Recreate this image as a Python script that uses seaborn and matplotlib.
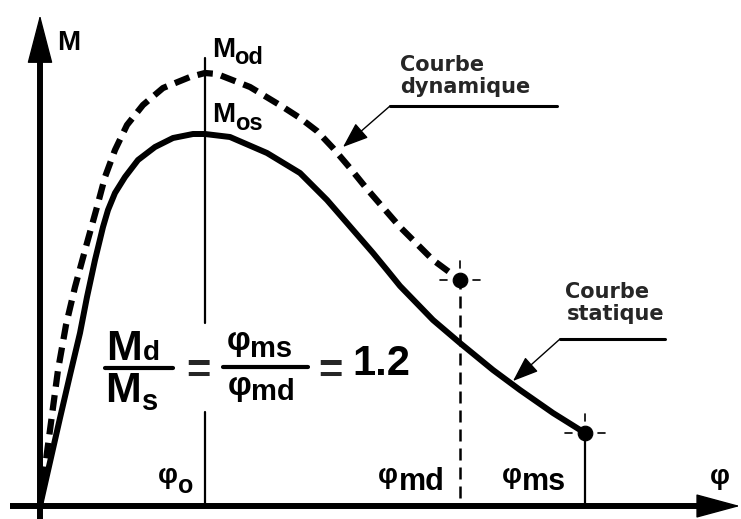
import pandas as pd
import matplotlib.pyplot as plt
import seaborn as sns

# curves (phi, M in arbitrary units)
phi_static = [0, 10, 20, 30, 40, 47, 55, 63, 68, 75, 85, 98, 115, 133, 153, 165,
              190, 227, 260, 287, 307, 333, 347, 360, 393, 420, 453, 480, 513, 545]
m_static = [0, 44, 88, 131, 173, 209, 246, 279, 296, 313, 329, 346, 359, 368, 372, 372,
            369, 353, 333, 306, 283, 253, 236, 220, 186, 163, 136, 116, 93, 73]

phi_dyn = [0, 6, 12, 18, 26, 35, 47, 57, 65, 75, 87, 103, 123, 150, 165,
           177, 210, 243, 260, 277, 293, 310, 327, 360, 393, 420]
m_dyn = [0, 46, 91, 136, 181, 219, 263, 299, 329, 356, 381, 401, 418, 429, 433,
         432, 419, 399, 388, 375, 358, 338, 317, 279, 246, 226]

phi_o = 165          # position of the maximum
phi_md = 420         # end of dynamic curve
phi_ms = 545         # end of static curve
end_phi = [phi_md, phi_ms]
end_m = [226, 73]
ratio = "1.2"

df_s = pd.DataFrame({"phi": phi_static, "M": m_static})
df_d = pd.DataFrame({"phi": phi_dyn, "M": m_dyn})
df_end = pd.DataFrame({"phi": end_phi, "M": end_m})

sns.set_style("white")
plt.rcParams["font.family"] = ["Liberation Sans", "DejaVu Sans"]

fig = plt.figure(figsize=(7.41, 5.19), dpi=100)
ax = fig.add_axes([0, 0, 1, 1])

sns.lineplot(data=df_s, x="phi", y="M", ax=ax, color="black", lw=4.3,
             sort=False, estimator=None)
sns.lineplot(data=df_d, x="phi", y="M", ax=ax, color="black", lw=4.5,
             sort=False, estimator=None, linestyle=(0, (2.5, 1.35)))
sns.scatterplot(data=df_end, x="phi", y="M", ax=ax, color="black", s=110,
                edgecolor="black", zorder=5)

# verticals
ax.plot([phi_o, phi_o], [0, 94], color="black", lw=1.6)
ax.plot([phi_o, phi_o], [183, 448], color="black", lw=1.6)
ax.plot([phi_md, phi_md], [8, end_m[0]], color="black", lw=1.8,
        linestyle=(0, (4.8, 2.8)))
ax.plot([phi_ms, phi_ms], [0, end_m[1]], color="black", lw=1.6)

# little dashes around the end points
for px, py in zip(end_phi, end_m):
    ax.plot([px - 20, px - 13], [py, py], color="black", lw=1.2)
    ax.plot([px + 13, px + 20], [py, py], color="black", lw=1.2)
    ax.plot([px, px], [py + 12, py + 19], color="black", lw=1.2)

# axes with arrows
ax.plot([0, 0], [-13, 450], color="black", lw=4.3, solid_capstyle="butt")
ax.plot([-30, 665], [0, 0], color="black", lw=4.3, solid_capstyle="butt")
ax.annotate("", xy=(0, 491), xytext=(0, 440),
            arrowprops=dict(arrowstyle="-|>,head_length=1.0,head_width=0.26",
                            mutation_scale=32, lw=1, color="black",
                            shrinkA=0, shrinkB=0))
ax.annotate("", xy=(700, 0), xytext=(655, 0),
            arrowprops=dict(arrowstyle="-|>,head_length=1.0,head_width=0.27",
                            mutation_scale=29, lw=1, color="black",
                            shrinkA=0, shrinkB=0))

bold = dict(fontweight="bold", color="black", va="baseline", ha="left")

# axis labels and sub-labelled marks
ax.text(17, 456, "M", fontsize=20, **bold)
ax.text(172, 449, "M", fontsize=20, **bold)
ax.text(194, 442, "od", fontsize=17, **bold)
ax.text(172, 384, "M", fontsize=20, **bold)
ax.text(195, 376, "os", fontsize=17, **bold)

ax.text(118, 23, "φ", fontsize=20, **bold)
ax.text(138, 13, "o", fontsize=18, **bold)
ax.text(338, 23, "φ", fontsize=20, **bold)
ax.text(359, 16, "md", fontsize=22, **bold)
ax.text(462, 23, "φ", fontsize=20, **bold)
ax.text(482, 16, "ms", fontsize=22, **bold)
ax.text(670, 22, "φ", fontsize=20, **bold)

# formula
ax.text(66, 146, "M", fontsize=31, **bold)
ax.text(103, 146, "d", fontsize=20, **bold)
ax.plot([65, 133], [138, 138], color="black", lw=3)
ax.text(65, 104, "M", fontsize=31, **bold)
ax.text(102, 96, "s", fontsize=21, **bold)
ax.text(158, 123, "=", fontsize=30, fontweight="bold", ha="center", va="baseline")
ax.text(187, 156, "φ", fontsize=24, **bold)
ax.text(210, 149, "ms", fontsize=21, **bold)
ax.plot([183, 268], [139, 139], color="black", lw=3)
ax.text(188, 111, "φ", fontsize=24, **bold)
ax.text(211, 106, "md", fontsize=21, **bold)
ax.text(290, 123, "=", fontsize=30, fontweight="bold", ha="center", va="baseline")
ax.text(312, 131, ratio, fontsize=30, **bold)

# curve names with leaders
lab = dict(fontsize=15, fontweight="bold", family="DejaVu Sans", va="baseline", ha="left")
ax.text(360, 435, "Courbe", **lab)
ax.text(360, 413, "dynamique", **lab)
ax.plot([350, 517], [400, 400], color="black", lw=2.2)
ax.annotate("", xy=(303, 359), xytext=(350, 400),
            arrowprops=dict(arrowstyle="-|>,head_length=0.8,head_width=0.3",
                            mutation_scale=20, lw=1, color="black",
                            shrinkA=0, shrinkB=0))

ax.text(525, 208, "Courbe", **lab)
ax.text(527, 186, "statique", **lab)
ax.plot([520, 625], [167, 167], color="black", lw=2.2)
ax.annotate("", xy=(473, 125), xytext=(520, 167),
            arrowprops=dict(arrowstyle="-|>,head_length=0.8,head_width=0.3",
                            mutation_scale=20, lw=1, color="black",
                            shrinkA=0, shrinkB=0))

ax.set_xlim(-40, 701)
ax.set_ylim(-13, 506)
ax.axis("off")

fig.savefig("out.png", dpi=100)
